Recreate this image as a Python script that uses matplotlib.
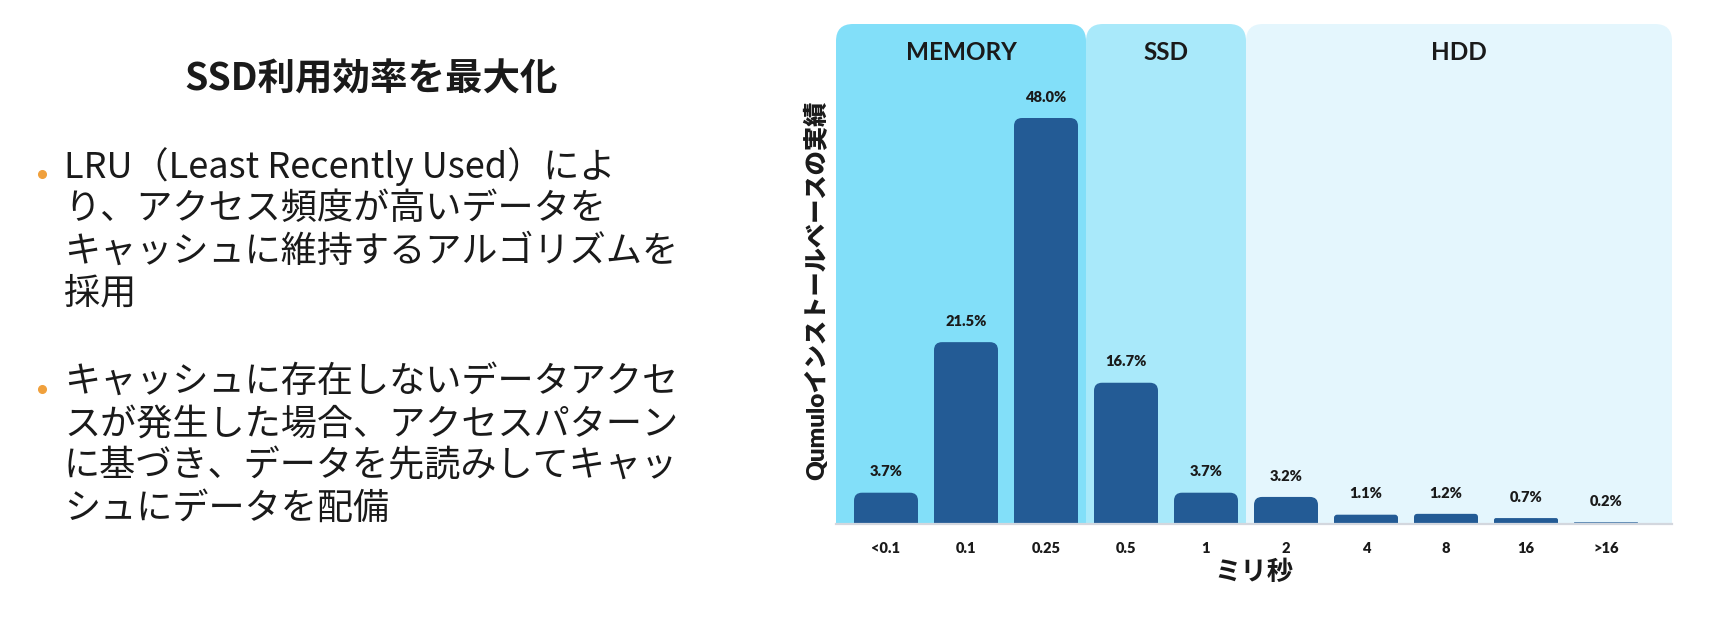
import numpy as np
import matplotlib
matplotlib.use("Agg")
import matplotlib.pyplot as plt
from matplotlib.patches import FancyBboxPatch
from matplotlib.lines import Line2D
import matplotlib.transforms as mtransforms

# ---------------- data ----------------
categories = ["<0.1", "0.1", "0.25", "0.5", "1", "2", "4", "8", "16", ">16"]
values = [3.7, 21.5, 48.0, 16.7, 3.7, 3.2, 1.1, 1.2, 0.7, 0.2]
tiers = ["MEMORY", "SSD", "HDD"]
tier_sizes = [3, 2, 5]          # number of latency buckets in each tier
x_label = "ミリ秒"
y_label = "Qumuloインストールベースの実績"

title = "SSD利用効率を最大化"
bullets = [
    ["LRU（Least Recently Used）によ",
     "り、アクセス頻度が高いデータを",
     "キャッシュに維持するアルゴリズムを",
     "採用"],
    ["キャッシュに存在しないデータアクセ",
     "スが発生した場合、アクセスパターン",
     "に基づき、データを先読みしてキャッ",
     "シュにデータを配備"],
]

# ---------------- style ----------------
W, H, DPI = 1724, 624, 100
tier_colors = ["#82DFF9", "#A9E9FA", "#E4F6FD"]
bar_color = "#235B95"
text_color = "#1A1A1A"
bullet_color = "#F0A03C"
CJK = ["Noto Sans CJK JP", "DejaVu Sans"]
LAT = ["Lato", "Noto Sans CJK JP", "DejaVu Sans"]

fig = plt.figure(figsize=(W / DPI, H / DPI), dpi=DPI)
fig.patch.set_facecolor("white")

# ---------------- left text block ----------------
fig.text(371 / W, 1 - 79 / H, title, ha="center", va="center",
         fontsize=27, fontweight="bold", family=CJK, color=text_color)

para_tops = [167, 382]
line_step = 42.3
for para, ytop in zip(bullets, para_tops):
    fig.add_artist(Line2D([42 / W], [1 - (ytop + 7) / H], marker="o",
                          markersize=5.5, color=bullet_color,
                          transform=fig.transFigure, linestyle="none"))
    for i, line in enumerate(para):
        fig.text(64 / W, 1 - (ytop + i * line_step) / H, line,
                 ha="left", va="center", fontsize=26, family=CJK,
                 color=text_color)

# ---------------- chart ----------------
ax_l, ax_r, ax_t, ax_b = 836, 1672, 24, 524
ax = fig.add_axes([ax_l / W, 1 - ax_b / H, (ax_r - ax_l) / W, (ax_b - ax_t) / H])
ax.set_facecolor("none")

ymax = max(values) * 500 / 406
xmin, xmax = -0.625, len(categories) - 1 + 0.825
ax.set_xlim(xmin, xmax)
ax.set_ylim(0, ymax)

px_x = (ax_r - ax_l) / (xmax - xmin)
px_y = (ax_b - ax_t) / ymax
aspect = px_x / px_y

# tier panels
edges = np.concatenate([[0], np.cumsum(tier_sizes)]) - 0.5
edges[0], edges[-1] = xmin, xmax
trans_xa = mtransforms.blended_transform_factory(ax.transData, ax.transAxes)
for i, (name, col) in enumerate(zip(tiers, tier_colors)):
    x0, x1 = edges[i], edges[i + 1]
    r = 17 / px_x
    p = FancyBboxPatch((x0, -ymax * 0.3), x1 - x0, ymax * 1.3,
                       boxstyle=f"round,pad=0,rounding_size={r}",
                       mutation_aspect=aspect, facecolor=col,
                       edgecolor="none", zorder=0)
    ax.add_patch(p)
    ax.text((x0 + x1) / 2, (ax_b - 53) / (ax_b - ax_t), name,
            transform=trans_xa, ha="center", va="center", fontsize=17.5,
            fontweight="bold", family=LAT, color=text_color)

# bars with rounded tops
xpos = np.arange(len(categories))
bars = ax.bar(xpos, values, width=0.8, color=bar_color, zorder=2)
for b, v in zip(bars, values):
    bx, bw, bh = b.get_x(), b.get_width(), b.get_height()
    b.remove()
    r_px = min(8.0, bh * px_y / 3)
    r = max(r_px, 0.01) / px_x
    p = FancyBboxPatch((bx, -10), bw, bh + 10,
                       boxstyle=f"round,pad=0,rounding_size={r}",
                       mutation_aspect=aspect, facecolor=bar_color,
                       edgecolor="none", zorder=2)
    ax.add_patch(p)
    ax.annotate(f"{v:.1f}%", (bx + bw / 2, bh), xytext=(0, 15),
                textcoords="offset points", ha="center", va="center",
                fontsize=10.5, fontweight="heavy", family=LAT,
                color=text_color, zorder=3)

ax.set_xticks(xpos)
ax.set_xticklabels(categories, fontsize=10.5, fontweight="heavy",
                   family=LAT, color=text_color)
ax.tick_params(axis="x", length=0, pad=13)
ax.set_yticks([])
for s in ["top", "right", "left"]:
    ax.spines[s].set_visible(False)
ax.spines["bottom"].set_color("#D3D7DE")
ax.spines["bottom"].set_linewidth(1.6)
ax.spines["bottom"].set_zorder(4)

ax.set_xlabel(x_label, fontsize=19, fontweight="bold", family=CJK,
              color=text_color, labelpad=3)
ax.set_ylabel(y_label, fontsize=17.5, fontweight="heavy", family=LAT,
              color=text_color, va="center")
ax.yaxis.set_label_coords((816 - ax_l) / (ax_r - ax_l),
                          (ax_b - 290) / (ax_b - ax_t))

fig.savefig("out.png", dpi=DPI, facecolor="white")
